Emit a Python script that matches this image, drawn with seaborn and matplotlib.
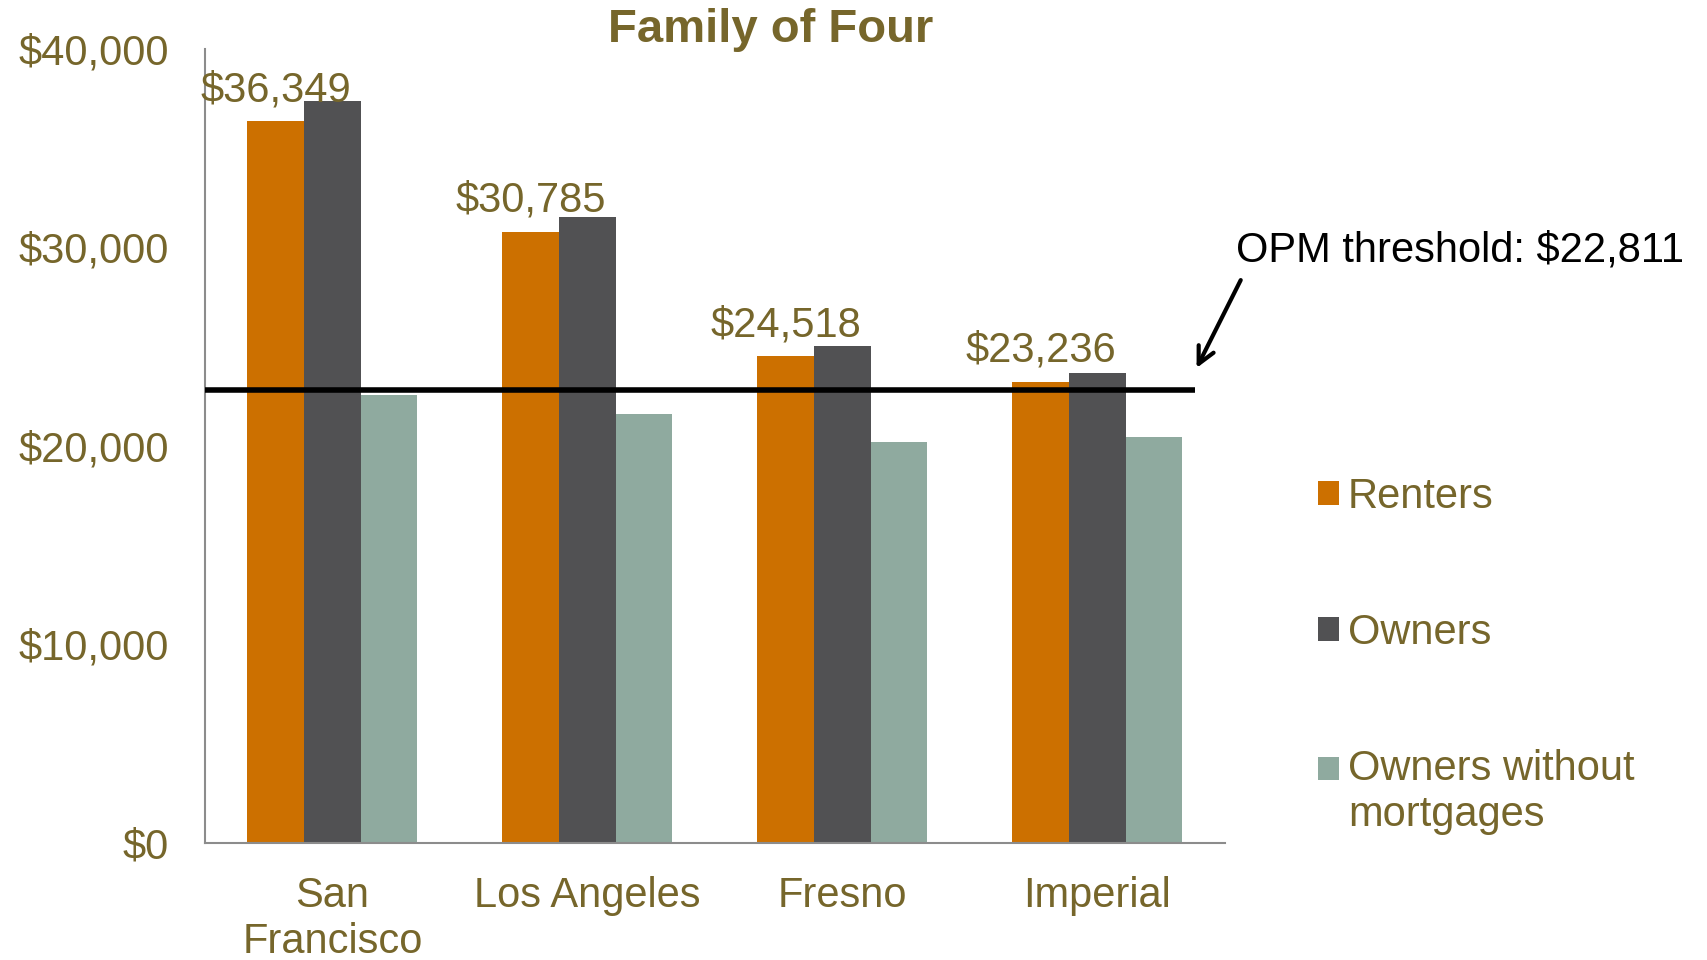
import numpy as np
import pandas as pd
import matplotlib
matplotlib.use("Agg")
import matplotlib.pyplot as plt
from matplotlib.patches import Rectangle
from matplotlib.legend_handler import HandlerPatch
import seaborn as sns

# Valores (Family of Four)
cidades = ["San\nFrancisco", "Los Angeles", "Fresno", "Imperial"]
grupos = ["Renters", "Owners", "Owners without\nmortgages"]
renters = [36349, 30785, 24518, 23236]
owners = [37370, 31550, 25020, 23650]
sem_hipoteca = [22550, 21620, 20190, 20470]
limiar_opm = 22811
yticks = [0, 10000, 20000, 30000, 40000]

cores = ["#CC7000", "#515153", "#8FAA9F"]
oliva = "#76662B"

dados = pd.DataFrame({
    "cidade": cidades * 3,
    "grupo": np.repeat(grupos, len(cidades)),
    "valor": renters + owners + sem_hipoteca,
})

sns.set_theme(style="white")
plt.rcParams["font.family"] = ["Liberation Sans", "DejaVu Sans"]

fig = plt.figure(figsize=(17.08, 9.6), dpi=100)
ax = fig.add_axes([0.120, 0.122, 0.597, 0.827])

sns.barplot(
    data=dados, x="cidade", y="valor", hue="grupo",
    order=cidades, hue_order=grupos, palette=cores,
    width=0.667, gap=0, saturation=1, linewidth=0, ax=ax, legend=True,
)

ax.set_ylim(0, 40000)
ax.set_xlim(-0.5, 3.5)
ax.set_yticks(yticks, labels=[f"${v:,}" for v in yticks])
ax.set_xlabel("")
ax.set_ylabel("")
ax.tick_params(axis="both", length=0, labelsize=30, labelcolor=oliva)
ax.tick_params(axis="y", pad=26)
ax.tick_params(axis="x", pad=24)
for s in ["top", "right"]:
    ax.spines[s].set_visible(False)
for s in ["left", "bottom"]:
    ax.spines[s].set_color("#8C8C8C")
    ax.spines[s].set_linewidth(1.5)

# rótulos só nos renters
ax.bar_label(ax.containers[0], labels=[f"${v:,}" for v in renters],
             padding=8, fontsize=30, color=oliva)

# linha do limiar OPM
ax.hlines(limiar_opm, -0.5, 3.385, color="black", linewidth=4, zorder=5)
ax.annotate("", xy=(3.385, 23800), xytext=(3.568, 28480),
            arrowprops=dict(arrowstyle="->", color="black", lw=3,
                            mutation_scale=30),
            annotation_clip=False)
ax.text(4.423, 29850, f"OPM threshold: ${limiar_opm:,}", fontsize=30,
        color="black", ha="center", va="center", clip_on=False)


# quadradinho alinhado com a primeira linha do rótulo de duas linhas
def quadrado_alto(legend, orig_handle, xdescent, ydescent, width, height, fontsize):
    return Rectangle((-xdescent, -ydescent + 0.57 * fontsize), width, height)


handles, labels = ax.get_legend_handles_labels()
ax.legend(handles, grupos, loc="upper left", bbox_to_anchor=(1.075, 0.482),
          frameon=False, fontsize=30, labelcolor=oliva,
          handlelength=0.5, handleheight=0.5, handletextpad=0.22,
          labelspacing=2.3, borderaxespad=0,
          handler_map={handles[2]: HandlerPatch(patch_func=quadrado_alto)})

fig.text(0.451, 0.969, "Family of Four", fontsize=34, fontweight="bold",
         color=oliva, ha="center", va="center")

fig.savefig("out.png", dpi=100)
